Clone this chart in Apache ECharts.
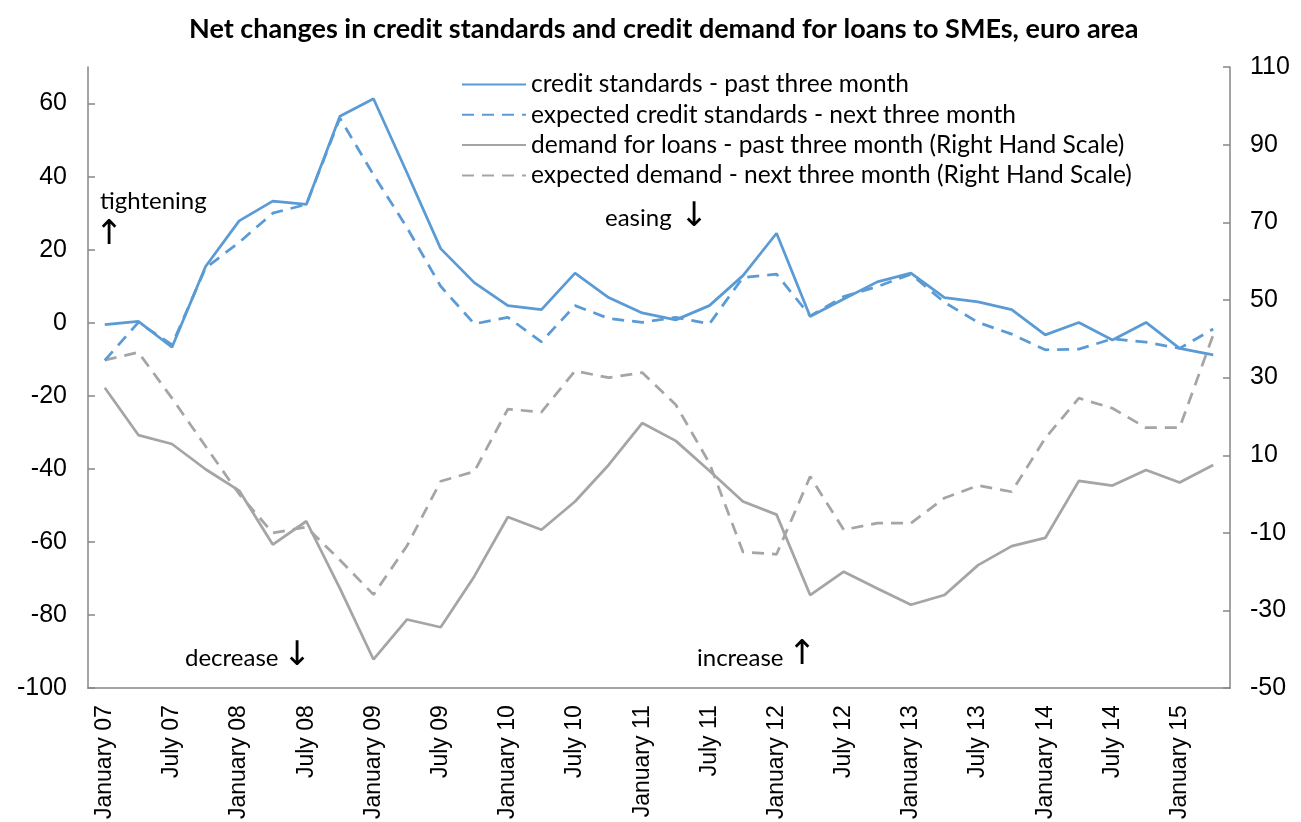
<!DOCTYPE html>
<html>
<head>
<meta charset="utf-8">
<script src="https://cdn.jsdelivr.net/npm/echarts@6/dist/echarts.min.js"></script>
<style>
  html, body { margin: 0; padding: 0; background: #fff; }
  #chart { width: 1301px; height: 822px; }
</style>
</head>
<body>
<div id="chart"></div>
<script>
// quarters, January 2007 .. April 2015
var quarters = [
  'January 07', 'April 07', 'July 07', 'October 07',
  'January 08', 'April 08', 'July 08', 'October 08',
  'January 09', 'April 09', 'July 09', 'October 09',
  'January 10', 'April 10', 'July 10', 'October 10',
  'January 11', 'April 11', 'July 11', 'October 11',
  'January 12', 'April 12', 'July 12', 'October 12',
  'January 13', 'April 13', 'July 13', 'October 13',
  'January 14', 'April 14', 'July 14', 'October 14',
  'January 15', 'April 15'
]

// left scale
var creditStandards = [-0.5, 0.4, -6.7, 15.4, 27.9, 33.3, 32.4, 56.5, 61.3, 41, 20.3, 11.0, 4.7, 3.6, 13.6, 6.9, 2.7,
  0.8, 4.7, 12.9, 24.5, 1.7, 6.5, 11.2, 13.6, 6.9, 5.7, 3.6, -3.3, 0.1, -4.7, 0.1, -7.0, -8.8]
var expectedStandards = [-10.3, 0.1, -6, 15, 22, 30, 32.4, 56, 40.5, 26, 10, -0.3, 1.5, -5.2, 4.7, 1.2, 0.1,
  1.5, -0.3, 12.4, 13.3, 1.9, 7.2, 9.9, 13.3, 5.6, 0.1, -3.1, -7.4, -7.2, -4.4, -5.3, -7.0, -1.7]

// right scale
var demand = [27.4, 15.2, 12.9, 6.4, 0.9, -13.0, -7.0, -24.3, -42.6, -32.3, -34.3, -21.2, -5.9, -9.2, -1.9, 7.5, 18.3,
  13.7, 6.0, -1.9, -5.3, -26.0, -20.0, -24.3, -28.5, -26.0, -18.3, -13.4, -11.3, 3.4, 2.2, 6.2, 3.0, 7.5]
var expectedDemand = [34.5, 36.5, 24.7, 12.3, 0.0, -10.0, -8.5, -17.0, -25.9, -13.3, 3.3, 5.8, 21.9, 21.1, 31.7, 30.0, 31.3,
  23.0, 8.0, -14.9, -15.5, 4.5, -9.2, -7.5, -7.5, -1.0, 2.2, 0.6, 14.4, 24.7, 22.1, 17.1, 17.1, 41]

var leftTicks = [-100, -80, -60, -40, -20, 0, 20, 40, 60]
var rightTicks = [-50, -30, -10, 10, 30, 50, 70, 90, 110]

var names = [
  'credit standards - past three month',
  'expected credit standards - next three month',
  'demand for loans - past three month (Right Hand Scale)',
  'expected demand - next three month (Right Hand Scale)'
]

var blue = '#5b9bd5'
var grey = '#a5a5a5'
var axisColor = '#868686'
var textFont = 'Lato, "Noto Sans", sans-serif'
var numFont = '"Liberation Sans", Arial, sans-serif'

function note(text, x, y) {
  return { type: 'text', x: x, y: y, style: { text: text, font: '24px ' + textFont, fill: '#000', align: 'left', verticalAlign: 'middle' } }
}
function arrow(text, x, y) {
  return { type: 'text', x: x, y: y, style: { text: text, font: '34px "DejaVu Sans"', fill: '#000', align: 'center', verticalAlign: 'middle' } }
}

var chart = echarts.init(document.getElementById('chart'))

chart.setOption({
  backgroundColor: '#fff',
  animation: false,
  title: {
    text: 'Net changes in credit standards and credit demand for loans to SMEs, euro area',
    left: 184,
    top: 11,
    textStyle: { fontFamily: textFont, fontWeight: 'bold', fontSize: 27, color: '#000' }
  },
  legend: {
    orient: 'vertical',
    left: 456,
    top: 67,
    itemWidth: 64,
    itemHeight: 14,
    itemGap: 5.3,
    itemStyle: { opacity: 0 },
    textStyle: { fontFamily: textFont, fontSize: 24.5, color: '#000' },
    data: names
  },
  grid: { left: 88, right: 71, top: 67, bottom: 132 },
  xAxis: [{
    type: 'category',
    data: quarters,
    axisLine: { onZero: false, lineStyle: { color: axisColor, width: 1.5 } },
    axisTick: { length: 8, interval: 0, lineStyle: { color: axisColor, width: 1.5 } },
    axisLabel: {
      interval: 1,
      rotate: 90,
      margin: 17,
      fontFamily: numFont,
      fontSize: 23,
      color: '#000'
    },
    splitLine: { show: false }
  }, {
    // inner half of the crossing ticks
    type: 'category',
    data: quarters,
    position: 'bottom',
    axisLine: { show: false, onZero: false },
    axisTick: { inside: true, length: 7, interval: 0, lineStyle: { color: axisColor, width: 1.5 } },
    axisLabel: { show: false },
    splitLine: { show: false }
  }],
  yAxis: [{
    type: 'value',
    min: -100,
    max: 70,
    axisLine: { show: true, lineStyle: { color: axisColor, width: 1.5 } },
    axisTick: { show: true, inside: true, length: 7, customValues: leftTicks, lineStyle: { color: axisColor, width: 1.5 } },
    axisLabel: { customValues: leftTicks, margin: 21, fontFamily: numFont, fontSize: 25, color: '#000' },
    splitLine: { show: false }
  }, {
    type: 'value',
    min: -50,
    max: 110,
    position: 'right',
    axisLine: { show: true, lineStyle: { color: axisColor, width: 1.5 } },
    axisTick: { show: true, inside: true, length: 7, customValues: rightTicks, lineStyle: { color: axisColor, width: 1.5 } },
    axisLabel: { customValues: rightTicks, margin: 20, fontFamily: numFont, fontSize: 25, color: '#000' },
    splitLine: { show: false }
  }],
  series: [{
    name: names[0],
    type: 'line',
    data: creditStandards,
    yAxisIndex: 0,
    symbol: 'none',
    z: 4,
    itemStyle: { color: blue },
    lineStyle: { color: blue, width: 2.75 }
  }, {
    name: names[1],
    type: 'line',
    data: expectedStandards,
    yAxisIndex: 0,
    symbol: 'none',
    z: 3,
    itemStyle: { color: blue },
    lineStyle: { color: blue, width: 2.75, type: [12, 8] }
  }, {
    name: names[2],
    type: 'line',
    data: demand,
    yAxisIndex: 1,
    symbol: 'none',
    z: 2,
    itemStyle: { color: grey },
    lineStyle: { color: grey, width: 2.75 }
  }, {
    name: names[3],
    type: 'line',
    data: expectedDemand,
    yAxisIndex: 1,
    symbol: 'none',
    z: 1,
    itemStyle: { color: grey },
    lineStyle: { color: grey, width: 2.75, type: [12, 8] }
  }],
  graphic: [
    note('tightening', 100, 201),
    arrow('↑', 109, 235),
    note('easing', 605, 218),
    arrow('↓', 694, 217),
    note('decrease', 185, 658),
    arrow('↓', 297, 656),
    note('increase', 697, 658),
    arrow('↑', 802, 655)
  ]
})
</script>
</body>
</html>
